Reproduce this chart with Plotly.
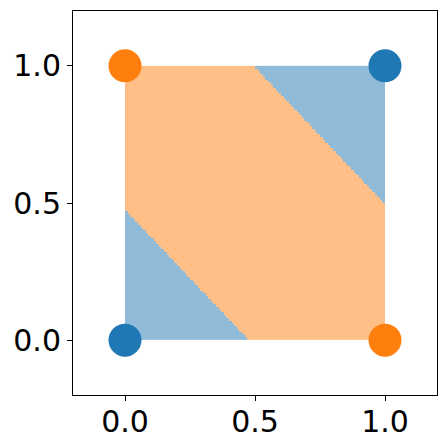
import numpy as np
import plotly.graph_objects as go

# XOR points
pts_x = [0, 1, 0, 1]
pts_y = [0, 1, 1, 0]
pts_cls = [0, 0, 1, 1]

# decision-region thresholds (x + y)
lower_cut = 0.472
upper_cut = 1.495
n_cells = 100

tick_vals = [0.0, 0.5, 1.0]
tick_text = ["0.0", "0.5", "1.0"]

centers = (np.arange(n_cells) + 0.5) / n_cells
gx, gy = np.meshgrid(centers, centers)
s = gx + gy
z = np.where((s < lower_cut) | (s > upper_cut), 0, 1)

blue = "#1f77b4"
orange = "#ff7f0e"

fig = go.Figure()
fig.add_trace(go.Heatmap(
    z=z, x0=centers[0], dx=1.0 / n_cells, y0=centers[0], dy=1.0 / n_cells,
    colorscale=[[0, "#8fbbd9"], [0.5, "#8fbbd9"], [0.5, "#ffbf86"], [1, "#ffbf86"]],
    zmin=0, zmax=1, showscale=False, hoverinfo="skip"))
for cls, col in [(0, blue), (1, orange)]:
    xs = [x for x, c in zip(pts_x, pts_cls) if c == cls]
    ys = [y for y, c in zip(pts_y, pts_cls) if c == cls]
    fig.add_trace(go.Scatter(x=xs, y=ys, mode="markers",
                             marker=dict(size=33, color=col, line=dict(width=0)),
                             showlegend=False, cliponaxis=False))

axis_common = dict(
    tickvals=tick_vals, ticktext=tick_text, showgrid=False, zeroline=False,
    showline=True, linecolor="black", linewidth=1, mirror=True,
    ticks="outside", ticklen=5, tickcolor="black", automargin=False,
    tickfont=dict(family="DejaVu Sans", size=30, color="black"))
fig.update_xaxes(range=[-0.2, 1.2], ticklabelstandoff=-5, **axis_common)
fig.update_yaxes(range=[-0.2, 1.2], **axis_common)
# page body has an 8px margin, so the figure is shifted by 8px right and down
fig.update_layout(width=440, height=440, margin=dict(l=65, r=11, t=3, b=53),
                  plot_bgcolor="white", paper_bgcolor="white")
fig.write_html("out.html")
